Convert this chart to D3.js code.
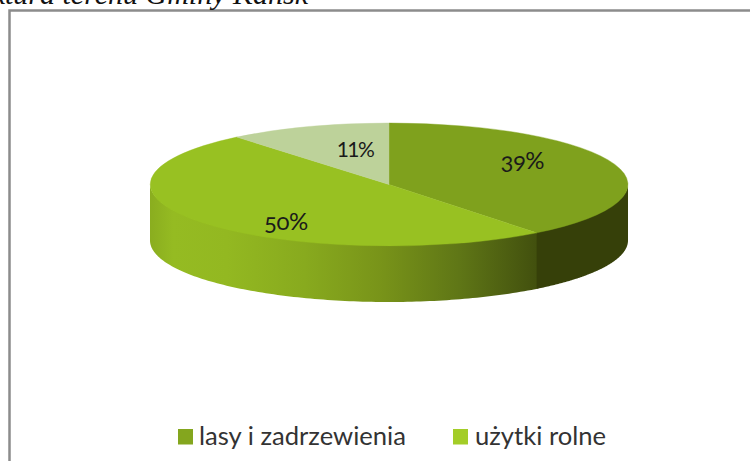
<!DOCTYPE html>
<html><head><meta charset="utf-8">
<script src="https://cdn.jsdelivr.net/npm/d3@7"></script>
<style>
html,body{margin:0;padding:0;background:#fff;overflow:hidden}
svg{display:block}
.lab{font-family:Lato,"Open Sans",sans-serif;font-variant-numeric:oldstyle-nums;fill:#1a1a1a}
</style></head><body>
<svg id="c" width="750" height="461"></svg>
<script>
const titleText = "Struktura terenu Gminy Kańsk";
const legendCategories = ["lasy i zadrzewienia", "użytki rolne"];
const legendColors = ["#84a61e", "#a3cd28"];
const values = [39.4, 49.6, 11];
const labels = ["39%", "50%", "11%"];
const topColors = ["#7fa11d", "#98c122", "#bdd29a"];

const W = 750, H = 461;
const cx = 389, cy = 184.5, rx = 239, ry = 61.5, depth = 56;
const svg = d3.select("#c");

// frame (only top and left edges are in view)
svg.append("path").attr("d", `M9.5 ${H}V10.5H${W}`).attr("fill", "none")
  .attr("stroke", "#8c8c8c").attr("stroke-width", 2.5);

// clipped title
svg.append("text").attr("x", 308).attr("y", 3.5).attr("text-anchor", "end")
  .attr("font-family", "Liberation Serif").attr("font-style", "italic")
  .attr("font-size", 30).attr("fill", "#111").text(titleText);

const pie = d3.pie().sort(null).value(d => d);
const arcs = pie(values);

const ex = d3.scaleLinear().domain([-1, 1]).range([cx - rx, cx + rx]);
const ey = d3.scaleLinear().domain([-1, 1]).range([cy - ry, cy + ry]);
const px = a => ex(Math.sin(a));
const py = a => ey(-Math.cos(a));

// side wall gradient
const defs = svg.append("defs");
const sideStops = [
  [0, "#8aad1f"], [0.06, "#95bb22"], [0.2, "#93b821"], [0.4, "#88aa1e"],
  [0.6, "#789319"], [0.8, "#5f7616"], [1, "#42500e"]
];
const gx0 = px(3 * Math.PI / 2), gx1 = px(arcs[1].startAngle);
const g = defs.append("linearGradient").attr("id", "side")
  .attr("gradientUnits", "userSpaceOnUse")
  .attr("x1", gx0).attr("x2", gx1).attr("y1", 0).attr("y2", 0);
g.selectAll("stop").data(sideStops).join("stop")
  .attr("offset", d => d[0]).attr("stop-color", d => d[1]);
const sideFills = ["#364009", "url(#side)", "none"];

const wall = d3.area().x(a => px(a)).y0(a => py(a) - 1).y1(a => py(a) + depth);
// draw the lit wall first, then the dark one, so no seam shows between them
[1, 0].forEach(i => {
  const d = arcs[i];
  const a0 = Math.max(d.startAngle, Math.PI / 2);
  const a1 = Math.min(d.endAngle, 3 * Math.PI / 2);
  const from = i === 1 ? a0 - 0.01 : a0;
  svg.append("path")
    .attr("d", wall(d3.range(0, 121).map(k => from + (a1 - from) * k / 120)))
    .attr("fill", sideFills[i]);
});

// top face
const arc = d3.arc().innerRadius(0).outerRadius(1);
svg.append("g").attr("transform", `translate(${cx},${cy}) scale(${rx},${ry})`)
  .selectAll("path").data(arcs).join("path")
  .attr("d", arc).attr("fill", (d, i) => topColors[i])
  .attr("stroke", (d, i) => topColors[i]).attr("stroke-width", 0.4)
  .attr("vector-effect", "non-scaling-stroke");

// data labels
const labelR = [0.59, 0.554, 0.42];
const labelDy = [-3.7, 24, -3];
const labelSize = [24, 24, 21];
const labelSpacing = [-0.5, -0.5, -1.5];
const labelNums = ["oldstyle-nums", "oldstyle-nums", "lining-nums"];
svg.selectAll("text.lab").data(arcs).join("text").attr("class", "lab")
  .attr("text-anchor", "middle")
  .attr("x", (d, i) => ex(labelR[i] * Math.sin((d.startAngle + d.endAngle) / 2)))
  .attr("y", (d, i) => ey(-labelR[i] * Math.cos((d.startAngle + d.endAngle) / 2)) + labelDy[i])
  .attr("font-size", (d, i) => labelSize[i])
  .attr("letter-spacing", (d, i) => labelSpacing[i])
  .style("font-variant-numeric", (d, i) => labelNums[i])
  .text((d, i) => labels[i]);

// legend
const lx = [178, 453], ly = 429, textX = [199, 475];
legendCategories.forEach((name, i) => {
  svg.append("rect").attr("x", lx[i]).attr("y", ly).attr("width", 15).attr("height", 15.5)
    .attr("fill", legendColors[i]);
  svg.append("text").attr("x", textX[i]).attr("y", 444.5)
    .attr("font-family", "Lato").attr("font-size", 25.6).attr("fill", "#333").text(name);
});
</script>
</body></html>
